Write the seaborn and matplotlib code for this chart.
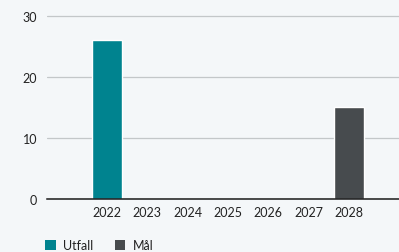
import pandas as pd
import matplotlib.pyplot as plt
import seaborn as sns
import numpy as np
from matplotlib.patches import Patch

# Data
years = ["2022", "2023", "2024", "2025", "2026", "2027", "2028"]
utfall = [26, np.nan, np.nan, np.nan, np.nan, np.nan, np.nan]
mal = [np.nan, np.nan, np.nan, np.nan, np.nan, np.nan, 15]
series_names = ["Utfall", "Mål"]
colors = ["#00838f", "#474b4e"]
bg = "#f4f7f9"

df = pd.DataFrame({
    "year": years * 2,
    "value": utfall + mal,
    "series": [series_names[0]] * len(years) + [series_names[1]] * len(years),
})

sns.set_style("white")
plt.rcParams["font.family"] = ["Lato", "DejaVu Sans"]

fig = plt.figure(figsize=(3.99, 2.53), dpi=100, facecolor=bg)
ax = fig.add_axes([47 / 399, 1 - 200 / 253, 1 - 47 / 399, (200 - 16) / 253])
ax.set_facecolor(bg)

sns.barplot(data=df, x="year", y="value", hue="series", order=years,
            hue_order=series_names, palette=colors, dodge=False, width=0.75,
            saturation=1, ax=ax, legend=False)

ax.set_xlim(-1.49, 7.24)
ax.set_ylim(0, 30.15)
ax.set_yticks([0, 10, 20, 30])
ax.yaxis.grid(True, color="#c3c7c9", linewidth=0.9)
ax.set_axisbelow(True)
for s in ["top", "right", "left"]:
    ax.spines[s].set_visible(False)
ax.spines["bottom"].set_color("#1a1a1a")
ax.spines["bottom"].set_linewidth(1.1)
ax.tick_params(axis="both", length=0, labelsize=9, colors="#222222")
ax.tick_params(axis="y", pad=7)
ax.tick_params(axis="x", pad=5)
ax.set_xlabel("")
ax.set_ylabel("")

handles = [Patch(facecolor=c, edgecolor="none") for c in colors]
fig.legend(handles, series_names, loc="lower left", bbox_to_anchor=(0.085, -0.04),
           ncol=2, frameon=False, fontsize=9, handlelength=0.85, handleheight=0.85,
           handletextpad=0.6, columnspacing=1.7, labelcolor="#222222")

fig.savefig("out.png", dpi=100, facecolor=bg)
